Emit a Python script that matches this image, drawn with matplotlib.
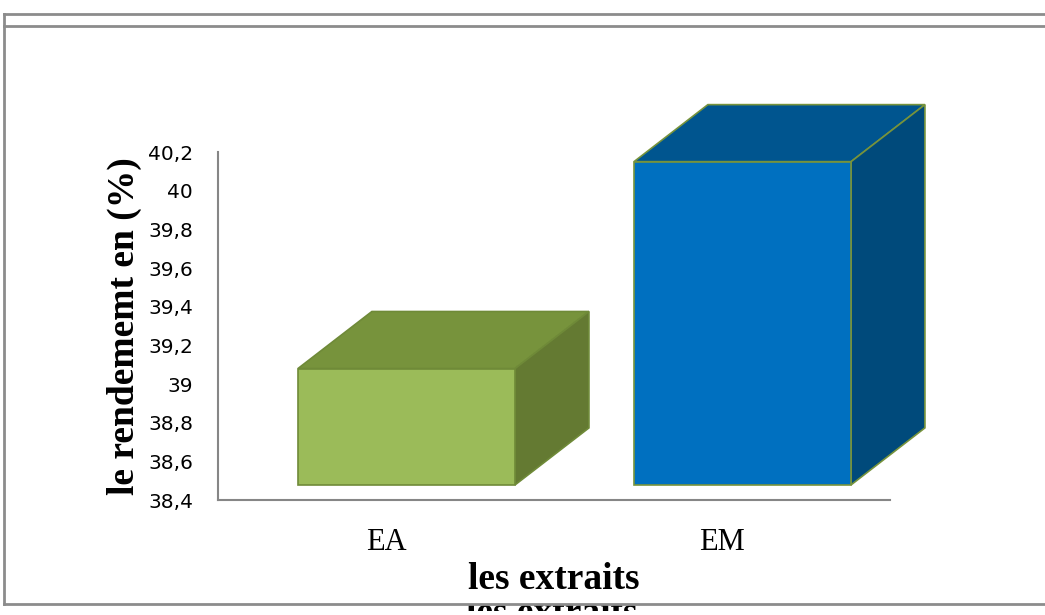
import matplotlib.pyplot as plt
import numpy as np
from matplotlib.patches import Polygon
from matplotlib.lines import Line2D

# yield of each extract (%)
extraits = ['EA', 'EM']
rendement = [39.08, 40.15]

front_colors = ['#9BBB59', '#0070C0']
top_colors = ['#77933C', '#00558F']
side_colors = ['#647A32', '#004A7B']
edge_colors = ['#6F8A38', '#77933C']

W, H = 1045, 615
fig = plt.figure(figsize=(W / 100, H / 100), dpi=100)

# plot area in pixels: x 218..890, y 152..500
ax = fig.add_axes([218 / W, (H - 500) / H, 672 / W, 348 / H])
ax.set_ylim(38.4, 40.2)
ax.set_xlim(-0.5, 1.5)
ax.set_yticks(np.arange(38.4, 40.21, 0.2))
ax.set_yticklabels(['38,4', '38,6', '38,8', '39', '39,2', '39,4',
                    '39,6', '39,8', '40', '40,2'])
ax.set_xticks(range(len(extraits)))
ax.set_xticklabels(extraits, family='Liberation Serif', fontsize=22)
ax.tick_params(axis='y', length=0, pad=18, labelsize=14.5, labelcolor='#000000')
ax.tick_params(axis='x', length=0, pad=20)
for s in ['top', 'right']:
    ax.spines[s].set_visible(False)
for s in ['left', 'bottom']:
    ax.spines[s].set_color('#868686')
    ax.spines[s].set_linewidth(1.5)

ax.set_ylabel('le rendememt en (%)', family='Liberation Serif',
              fontweight='bold', fontsize=27, labelpad=4)
ax.set_xlabel('les extraits', family='Liberation Serif',
              fontweight='bold', fontsize=27, labelpad=4)

# pseudo-3D columns
base = 38.478
off = -0.262
width = 0.646
dx = 0.22
dy = 0.295

bars = ax.bar(np.arange(len(extraits)) + off, np.array(rendement) - base,
              width=width, bottom=base, align='edge',
              color=front_colors, edgecolor=edge_colors, linewidth=1.2,
              zorder=3, clip_on=False)

for i, v in enumerate(rendement):
    x0 = i + off
    x1 = x0 + width
    top = Polygon([(x0, v), (x0 + dx, v + dy), (x1 + dx, v + dy), (x1, v)],
                  closed=True, facecolor=top_colors[i],
                  edgecolor=edge_colors[i], linewidth=1.2,
                  zorder=2, clip_on=False)
    side = Polygon([(x1, base), (x1 + dx, base + dy), (x1 + dx, v + dy), (x1, v)],
                   closed=True, facecolor=side_colors[i],
                   edgecolor=edge_colors[i], linewidth=1.2,
                   zorder=2, clip_on=False)
    ax.add_patch(top)
    ax.add_patch(side)

# leftover copy of the axis title: only a thin strip under the bottom line
# shows, so it lives in a small clipping axes of its own (y 605..611 px)
strip = fig.add_axes([420 / W, (H - 611) / H, 270 / W, 6 / H])
strip.set_axis_off()
strip.set_xlim(420, 690)
strip.set_ylim(611, 605)
strip.text(552, 623, 'les extraits', family='Liberation Serif',
           fontweight='bold', fontsize=27, ha='center', va='baseline',
           clip_on=True)

# frame lines around the chart
def fline(x0, y0, x1, y1):
    fig.add_artist(Line2D([x0 / W, x1 / W], [1 - y0 / H, 1 - y1 / H],
                          transform=fig.transFigure, color='#8C8C8C', lw=2,
                          zorder=3))

fline(4, 14, W, 14)
fline(4, 26, W, 26)
fline(4, 14, 4, 604)
fline(4, 604, W, 604)

fig.savefig('out.png', dpi=100)
